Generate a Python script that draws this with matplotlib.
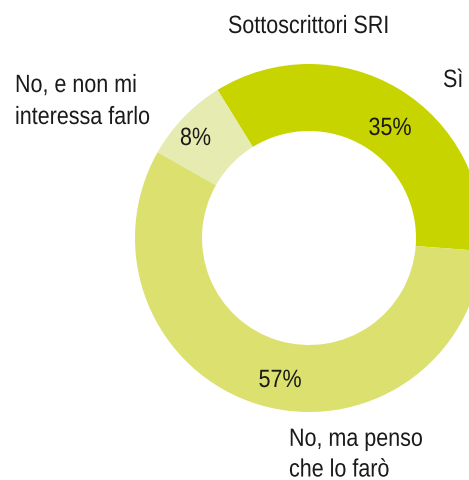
import matplotlib.pyplot as plt
from matplotlib.patheffects import AbstractPathEffect
from matplotlib.transforms import Affine2D

categories = ['Sì', 'No, e non mi\ninteressa farlo', 'No, ma penso\nche lo farò']
values = [35, 8, 57]
colors = ['#c8d400', '#e6ebb2', '#dbe06e']
title = 'Sottoscrittori SRI'

plt.rcParams['font.family'] = ['Liberation Sans', 'DejaVu Sans']
TXT = '#1a1a1a'
FS = 18


# squeeze glyphs horizontally to mimic the condensed font of the original
class Narrow(AbstractPathEffect):
    def __init__(self, x0, sx=0.86):
        super().__init__()
        self.x0 = x0
        self.sx = sx

    def draw_path(self, renderer, gc, tpath, affine, rgbFace=None):
        sq = Affine2D().translate(-self.x0, 0).scale(self.sx, 1).translate(self.x0, 0)
        renderer.draw_path(gc, tpath, affine + sq, rgbFace)


fig = plt.figure(figsize=(4.69, 4.8), dpi=100)
ax = fig.add_axes([0, 0, 1, 1])

ax.pie(values, colors=colors, startangle=-4.3, counterclock=True,
       radius=174, center=(309, 242),
       wedgeprops=dict(width=67, linewidth=0))

ax.set_xlim(0, 469)
ax.set_ylim(0, 480)
ax.set_aspect('equal')
ax.axis('off')


def label(x, y, s, ha='left', **kw):
    x0 = ax.transData.transform((x, y))[0]
    ax.text(x, y, s, ha=ha, va='baseline', fontsize=FS, color=TXT,
            path_effects=[Narrow(x0)], **kw)


label(308.5, 447, title, ha='center')
label(443, 393, categories[0])
# multi-line: y is the baseline of the last line
label(15, 356, categories[1], linespacing=1.42)
label(289, 3.5, categories[2], linespacing=1.35)

# percentage labels inside the ring
pct_x = [390, 195.5, 280]
pct_y = [345, 335, 93]
for v, x, y in zip(values, pct_x, pct_y):
    label(x, y, '%d%%' % v, ha='center')

fig.savefig('out.png', dpi=100)
